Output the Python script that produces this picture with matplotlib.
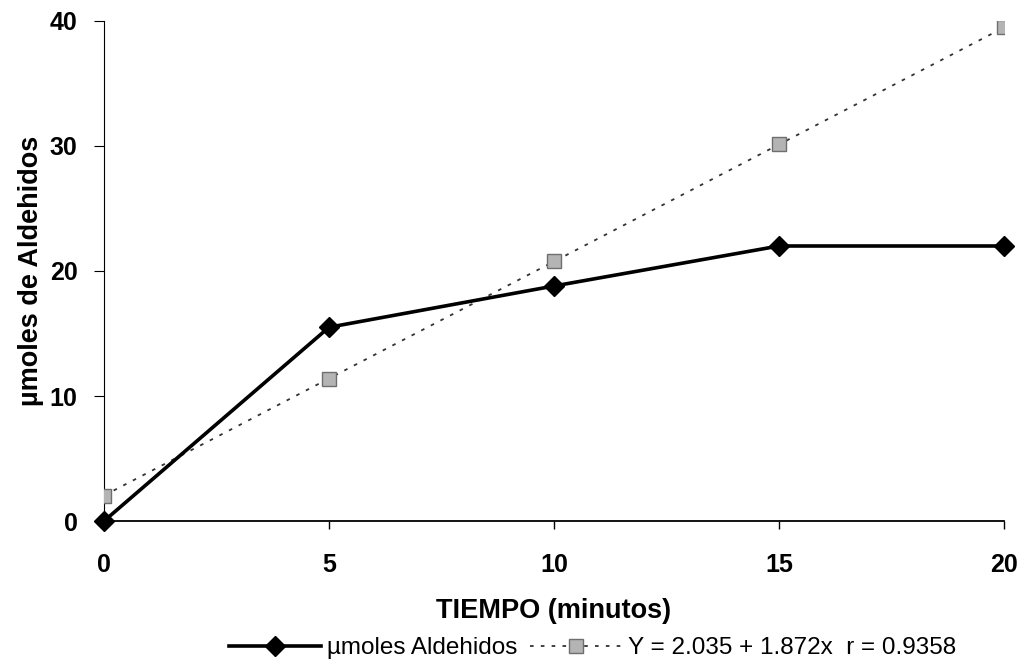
import numpy as np
import matplotlib
matplotlib.use("Agg")
import matplotlib.pyplot as plt
from matplotlib import rc

rc('font', **{'family': 'sans-serif', 'sans-serif': ['Liberation Sans', 'DejaVu Sans'], 'size': 14})

# time points (minutes)
tiempo = [0, 5, 10, 15, 20]
# measured aldehydes (umol)
aldehidos = [0.0, 15.5, 18.8, 22.0, 22.0]
# fitted line values
ajuste = [2.04, 11.40, 20.76, 30.12, 39.48]

etiqueta_datos = "µmoles Aldehidos"
etiqueta_ajuste = "Y = 2.035 + 1.872x  r = 0.9358"

fig = plt.figure(figsize=(10.31, 6.66), dpi=100)
ax = fig.add_axes([0.1009, 0.2177, 0.8729, 0.7508])

l_fit, = ax.plot(tiempo, ajuste, linestyle=(0, (2, 4)), color='#333333', linewidth=1.3,
                 marker='s', markersize=10, markerfacecolor='#b4b4b4',
                 markeredgecolor='#6e6e6e', markeredgewidth=1.0, zorder=3)
l_dat, = ax.plot(tiempo, aldehidos, '-', color='black', linewidth=2.6,
                 marker='D', markersize=10, markerfacecolor='black',
                 markeredgecolor='black', zorder=4, clip_on=False)

ax.set_xlim(0, 20)
ax.set_ylim(0, 40)
ax.set_xticks([0, 5, 10, 15, 20])
ax.set_yticks([0, 10, 20, 30, 40])

for s in ['top', 'right']:
    ax.spines[s].set_visible(False)
ax.spines['left'].set_linewidth(0.8)
ax.spines['bottom'].set_linewidth(1.3)

ax.tick_params(axis='x', direction='out', length=6, width=1.0, pad=17, labelsize=18)
ax.tick_params(axis='y', direction='out', length=7, width=0.8, pad=12, labelsize=18)
for lab in ax.get_xticklabels() + ax.get_yticklabels():
    lab.set_fontweight('bold')

ax.set_xlabel("TIEMPO (minutos)", fontsize=19.5, fontweight='bold', labelpad=15)
ax.set_ylabel("µmoles de Aldehidos", fontsize=19.5, fontweight='bold', labelpad=4)

fig.legend([l_dat, l_fit], [etiqueta_datos, etiqueta_ajuste], loc='center',
           bbox_to_anchor=(0.575, 0.027), ncol=2, frameon=False, fontsize=17.5,
           handlelength=3.8, handletextpad=0.25, columnspacing=0.5)

fig.savefig("out.png", dpi=100)
